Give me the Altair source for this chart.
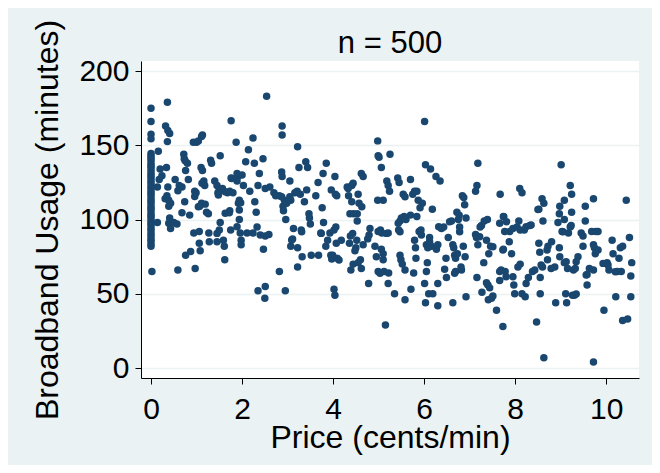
import altair as alt
import pandas as pd

title_text = "n = 500"
x_title = "Price (cents/min)"
y_title = "Broadband Usage (minutes)"
x_ticks = [0, 2, 4, 6, 8, 10]
y_ticks = [0, 50, 100, 150, 200]

# customers facing a zero price (dense column at price = 0)
usage_zero_price = [175, 166, 157.5, 154.5, 144.5, 143, 141.5, 140, 138, 136.5, 135, 133,
                    131, 129.5, 128, 126, 124.5, 122.5, 121, 119, 117.5, 116, 114, 112.5,
                    111, 109, 107.5, 106, 104, 102.5, 101, 99, 97.5, 96, 94, 92.5, 90.5,
                    89, 87, 85.5, 83.5, 82]

band_0_1 = [(0.02, 65), (0.16, 146), (0.20, 134), (0.18, 127), (0.14, 122), (0.24, 129.5),
            (0.14, 98), (0.36, 179), (0.32, 163), (0.37, 160), (0.41, 158), (0.36, 152.5),
            (0.34, 135), (0.37, 122), (0.31, 114), (0.39, 113), (0.43, 111), (0.35, 116),
            (0.39, 109), (0.41, 101), (0.43, 94), (0.39, 97.5), (0.50, 98), (0.57, 97),
            (0.59, 66), (0.53, 127), (0.62, 123), (0.68, 122), (0.59, 119.4), (0.72, 144),
            (0.73, 141), (0.76, 133), (0.80, 138), (0.75, 139.6), (0.74, 112), (0.82, 127),
            (0.85, 103), (0.68, 104.6), (0.76, 76), (0.87, 78.5), (0.94, 91), (0.96, 119),
            (0.99, 118), (0.96, 115.5), (1.0, 152), (0.93, 152), (0.97, 67)]

band_1_2 = [(1.04, 153), (1.11, 156), (1.13, 157), (1.10, 135), (1.13, 133), (1.16, 126),
            (1.18, 123), (1.12, 124.4), (1.07, 109), (1.11, 111), (1.19, 110.4), (1.04, 108.6),
            (1.06, 92), (1.06, 84), (1.08, 79), (1.22, 105), (1.27, 91), (1.26, 104),
            (1.31, 140), (1.33, 138), (1.40, 126), (1.45, 123), (1.47, 118), (1.50, 120),
            (1.48, 116.5), (1.50, 93), (1.52, 98), (1.52, 143), (1.59, 86), (1.61, 82),
            (1.62, 73), (1.28, 85), (1.45, 85), (1.45, 90.7), (1.57, 121), (1.63, 118.7),
            (1.68, 118), (1.73, 119), (1.76, 128), (1.76, 166.5), (1.73, 106), (1.63, 104.2),
            (1.72, 104.6), (1.75, 93), (1.80, 118), (1.87, 152), (1.89, 131), (1.91, 129),
            (1.89, 126), (1.92, 111), (1.94, 113), (1.97, 111.3), (1.94, 106.4), (1.94, 100),
            (1.96, 91), (1.98, 86), (1.98, 83), (1.89, 95.2), (1.77, 127.7)]

band_2_3 = [(2.0, 130), (2.03, 123), (2.08, 139), (2.14, 147), (2.17, 119), (2.24, 155),
            (2.27, 138), (2.28, 112), (2.31, 105), (2.33, 95), (2.24, 91), (2.35, 123),
            (2.38, 131), (2.46, 141), (2.51, 121), (2.47, 80), (2.51, 89), (2.59, 90),
            (2.35, 52), (2.51, 55), (2.50, 47), (2.54, 183), (2.61, 122), (2.11, 91),
            (2.40, 89.6), (2.70, 118), (2.74, 116), (2.82, 116), (2.82, 65), (2.88, 163),
            (2.88, 157), (2.87, 132), (2.88, 129), (2.90, 109), (2.93, 113), (2.98, 111),
            (2.96, 100), (2.95, 52), (2.87, 115.4), (2.91, 106)]

band_3_4 = [(3.05, 126), (3.07, 113), (3.07, 82), (3.11, 87), (3.13, 94), (3.16, 118),
            (3.21, 119), (3.22, 149), (3.25, 135), (3.28, 117), (3.22, 81), (3.22, 68),
            (3.30, 93), (3.32, 75), (3.40, 139), (3.44, 135), (3.37, 112), (3.42, 120),
            (3.47, 104), (3.48, 101), (3.50, 97), (3.52, 76), (3.31, 91.8), (3.09, 86.2),
            (3.05, 115.4), (3.62, 116), (3.67, 125), (3.68, 76), (3.73, 91), (3.76, 108),
            (3.78, 131), (3.79, 98), (3.85, 138), (3.84, 82), (3.88, 86), (3.93, 91),
            (3.96, 120), (3.99, 76), (3.74, 90.7), (3.95, 76), (3.97, 73.5)]

band_4_5 = [(4.02, 93), (4.04, 129), (4.06, 95), (4.05, 117), (4.08, 116), (4.02, 53),
            (4.04, 49), (4.07, 84), (4.09, 74), (4.18, 86), (4.33, 121), (4.41, 123),
            (4.34, 116), (4.41, 112), (4.38, 89), (4.36, 84), (4.39, 66), (4.44, 70),
            (4.45, 104), (4.37, 104), (4.13, 72.8), (4.43, 90.7), (4.52, 86), (4.44, 124.5),
            (4.31, 122), (4.53, 104), (4.48, 79), (4.50, 81), (4.55, 117), (4.57, 111),
            (4.53, 99), (4.60, 73), (4.55, 71), (4.62, 131), (4.66, 129), (4.62, 67),
            (4.66, 83), (4.78, 57), (4.81, 94), (4.76, 87), (4.92, 82), (4.95, 75),
            (4.98, 153), (4.99, 143), (4.98, 113), (4.99, 92), (4.99, 65), (4.79, 89.6),
            (4.63, 108.6)]

band_5_6 = [(5.01, 142), (5.03, 63.8), (5.06, 135), (5.10, 113), (5.04, 93), (5.07, 91),
            (5.06, 80), (5.10, 77), (5.10, 73), (5.12, 65), (5.15, 29), (5.18, 126),
            (5.21, 123), (5.25, 144), (5.24, 119), (5.21, 91), (5.22, 64), (5.21, 57),
            (5.17, 90.7), (5.35, 50), (5.42, 128), (5.45, 125), (5.44, 93), (5.47, 99),
            (5.50, 101), (5.47, 76), (5.49, 73), (5.52, 70), (5.54, 117), (5.56, 102),
            (5.60, 100), (5.58, 46), (5.58, 66), (5.70, 127), (5.70, 103), (5.71, 53),
            (5.75, 117), (5.79, 119), (5.84, 119), (5.77, 64), (5.79, 86), (5.81, 81),
            (5.82, 74), (5.84, 102), (5.87, 113), (5.91, 108), (5.89, 92), (5.93, 93),
            (5.43, 97.5), (5.47, 91.8), (5.58, 115.4), (5.96, 111), (5.94, 89.6)]

band_6_7 = [(6.01, 166), (6.03, 137), (6.01, 57), (6.03, 44), (6.05, 83), (6.08, 81),
            (6.07, 71), (6.05, 65), (6.10, 50), (6.12, 88), (6.14, 134), (6.16, 82),
            (6.18, 107), (6.19, 50), (6.26, 129), (6.30, 57), (6.27, 80), (6.30, 83),
            (6.30, 42), (6.35, 126), (6.38, 94), (6.43, 95), (6.48, 74), (6.49, 61),
            (6.53, 88), (6.60, 99), (6.63, 83), (6.65, 81), (6.63, 44), (6.67, 76),
            (6.69, 65), (6.72, 105), (6.77, 103), (6.75, 100), (6.78, 95), (6.81, 68),
            (6.84, 116), (6.89, 110), (6.86, 82), (6.90, 75), (6.92, 48), (6.92, 101),
            (6.12, 85), (6.45, 66.5), (6.32, 95.2), (6.56, 98.6), (6.69, 74), (6.73, 77),
            (6.78, 91.8), (6.82, 66), (6.67, 63.8), (6.87, 114.9)]

band_7_8 = [(7.13, 90), (7.15, 88), (7.13, 119), (7.16, 123), (7.18, 138), (7.18, 83),
            (7.16, 61), (7.23, 95), (7.27, 51), (7.31, 71), (7.32, 99), (7.39, 100),
            (7.37, 86), (7.40, 56), (7.44, 54), (7.41, 46), (7.48, 47), (7.46, 82),
            (7.51, 81.7), (7.42, 77), (7.26, 96), (7.22, 88.5), (7.37, 57.5), (7.51, 48.5),
            (7.59, 39), (7.73, 28), (7.66, 65), (7.66, 59), (7.80, 61.5), (7.73, 79.5),
            (7.92, 77), (7.77, 92), (7.88, 92), (7.66, 97.5), (7.81, 98.6), (7.67, 117),
            (7.74, 102), (7.69, 66), (7.74, 80), (7.78, 65), (7.87, 85), (7.95, 94),
            (7.99, 50), (7.97, 56), (7.75, 101.9)]

band_8_9 = [(8.04, 95), (8.08, 99), (8.06, 68), (8.11, 70), (8.10, 121), (8.15, 118),
            (8.11, 93), (8.15, 50), (8.20, 93), (8.22, 48), (8.24, 57), (8.29, 61),
            (8.32, 96), (8.38, 65), (8.47, 31), (8.52, 84), (8.54, 78), (8.52, 107),
            (8.55, 61), (8.55, 50), (8.59, 114), (8.63, 111), (8.61, 99), (8.60, 68),
            (8.63, 7), (8.71, 73), (8.72, 82), (8.80, 85), (8.87, 68), (8.89, 44),
            (8.24, 95.2), (8.35, 96.3), (7.95, 61.5), (8.43, 66), (8.57, 69.4),
            (8.70, 79.5), (8.79, 67), (8.50, 106.8), (8.94, 98), (8.97, 104), (8.98, 109),
            (8.97, 81), (8.98, 75)]

band_9_10 = [(9.01, 137), (9.03, 92), (9.08, 100), (9.08, 113), (9.08, 71), (9.11, 50),
             (9.13, 44), (9.15, 67), (9.17, 91), (9.21, 95), (9.21, 123), (9.24, 117),
             (9.24, 105), (9.26, 49), (9.30, 49), (9.28, 66), (9.32, 67), (9.38, 75),
             (9.45, 91), (9.49, 89), (9.49, 82), (9.54, 109), (9.54, 99), (9.58, 56),
             (9.58, 63), (9.63, 67), (9.12, 71.6), (9.34, 71.6), (9.23, 96), (9.05, 91.8),
             (9.34, 49.9), (9.68, 92), (9.77, 92), (9.72, 114), (9.72, 83), (9.74, 81),
             (9.76, 77), (9.72, 4), (9.72, 66), (9.82, 92), (9.95, 39), (9.82, 79.5),
             (9.93, 70.5), (9.56, 62.7)]

band_10_11 = [(10.02, 71), (10.06, 66), (10.13, 86), (10.15, 77), (10.21, 48), (10.24, 65),
              (10.28, 74), (10.31, 81), (10.36, 82), (10.33, 65), (10.36, 32), (10.44, 113),
              (10.51, 88), (10.54, 62), (10.54, 48), (10.47, 33), (10.56, 71), (10.04, 69.4),
              (10.2, 64.9)]

rows = [(0.0, u) for u in usage_zero_price]
for band in [band_0_1, band_1_2, band_2_3, band_3_4, band_4_5, band_5_6,
             band_6_7, band_7_8, band_8_9, band_9_10, band_10_11]:
    rows.extend(band)
df = pd.DataFrame(rows, columns=["price", "usage"])

FONT = "Liberation Sans"

chart = alt.Chart(df).mark_circle(size=56, color="#1a476f", opacity=1).encode(
    x=alt.X("price:Q",
            scale=alt.Scale(domain=[-0.22, 10.72], nice=False, zero=False),
            axis=alt.Axis(values=x_ticks, title=x_title, grid=False, labelAngle=0,
                          tickSize=6, labelPadding=10, titleBaseline="alphabetic",
                          titleY=69, titleX=249)),
    y=alt.Y("usage:Q",
            scale=alt.Scale(domain=[-6.7, 206.8], nice=False, zero=False),
            axis=alt.Axis(values=y_ticks, title=y_title, grid=True, gridColor="#eaf2f3",
                          gridWidth=1.5, tickSize=6, labelPadding=6,
                          titleBaseline="alphabetic", titleAngle=-90,
                          titleX=-84, titleY=158.5)),
).properties(
    width=498, height=317,
    title=alt.TitleParams(text=title_text, font=FONT, fontSize=31, fontWeight="normal",
                          color="black", anchor="middle", baseline="alphabetic",
                          offset=9, dy=74, frame="group"),
    autosize=alt.AutoSizeParams(type="none"),
    padding={"left": 133, "top": 53, "right": 13, "bottom": 87},
    background="#eaf2f3",
).configure_view(
    fill="white", strokeWidth=0
).configure_axis(
    domainColor="black", tickColor="black", domainWidth=1, tickWidth=1,
    labelFont=FONT, labelFontSize=30, labelColor="black",
    titleFont=FONT, titleFontSize=32, titleFontWeight="normal", titleColor="black",
)

chart.save("out.html", embed_options={"renderer": "svg", "actions": False})
